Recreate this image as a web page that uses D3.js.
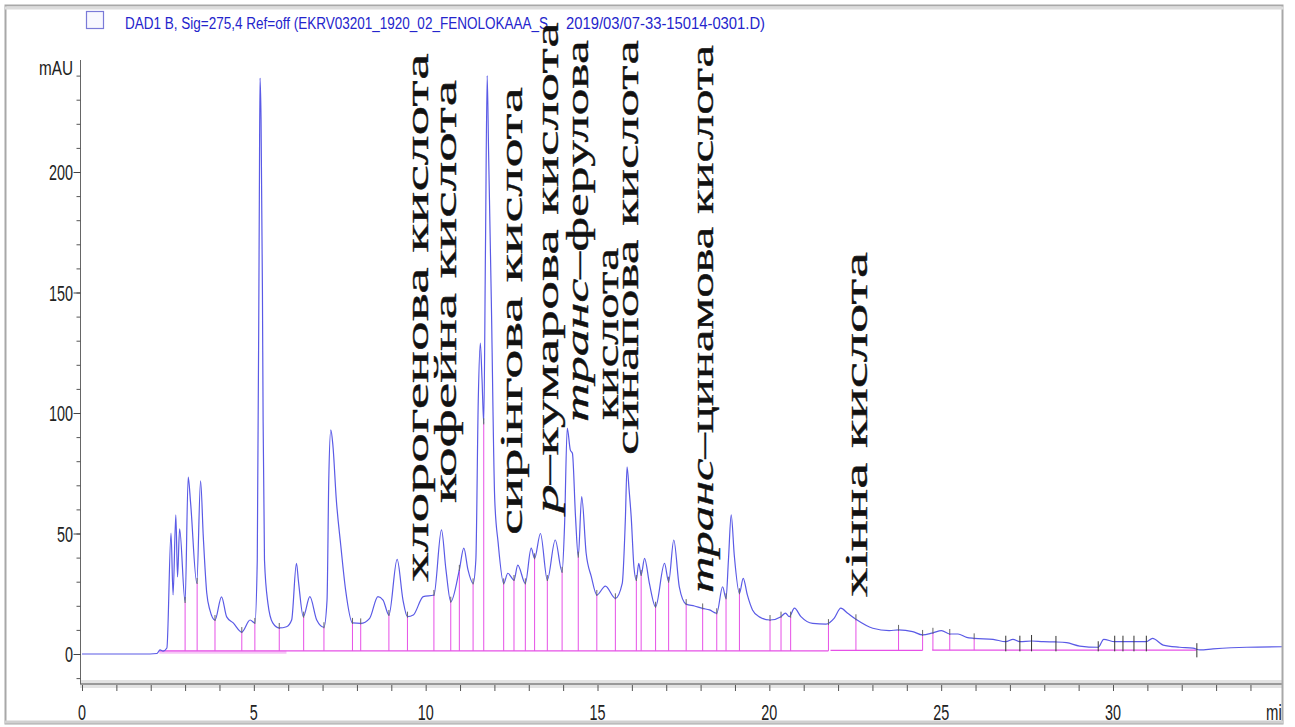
<!DOCTYPE html>
<html>
<head>
<meta charset="utf-8">
<script src="https://cdn.jsdelivr.net/npm/d3@7"></script>
<style>body{margin:0;background:#fff}</style>
</head>
<body>
<script>
// chromatogram trace: [retention time (min), absorbance (mAU)]
const trace = [
  [0,0],[1.98,0],[2.18,0.2],[2.27,1.7],[2.36,1.2],[2.47,2.5],[2.59,50.2],[2.65,24.5],[2.73,57.7],[2.78,32],
  [2.84,51.9],[3.00,21.6],[3.09,73.4],[3.16,62.7],[3.34,29.5],[3.45,71.8],[3.53,48.5],[3.63,25.3],[3.72,18.3],
  [3.87,14.1],[4.06,23.7],[4.21,15.4],[4.40,12.9],[4.65,9.1],[4.89,14.1],[5.03,12.9],[5.10,39],[5.16,188],
  [5.18,239],[5.21,222],[5.25,151],[5.27,97],[5.31,39],[5.41,21],[5.55,12.9],[5.74,10.8],[5.95,11.3],[6.10,14.1],
  [6.24,37.6],[6.30,30],[6.44,15.5],[6.63,23.8],[6.83,14.1],[7.04,11.1],[7.13,22.4],[7.18,72],[7.24,93],[7.30,86.7],
  [7.40,64],[7.53,45],[7.67,26.6],[7.87,12.9],[8.11,12.7],[8.37,14.8],[8.61,23.8],[8.76,22.4],[8.93,16.2],
  [9.17,39.3],[9.34,22.4],[9.47,15.5],[9.64,16.2],[9.93,23.8],[10.24,24.5],[10.46,51.5],[10.59,35],[10.73,21.7],
  [10.98,34.9],[11.11,43.9],[11.23,35],[11.38,29.3],[11.46,39],[11.53,105],[11.59,129],[11.64,114],[11.69,95.7],
  [11.74,168],[11.79,240],[11.83,209],[11.91,147],[12.01,64],[12.11,46],[12.27,29.3],[12.39,33.5],[12.57,30.7],
  [12.68,36.9],[12.90,29.3],[13.07,43.9],[13.17,39.7],[13.34,50],[13.54,30.7],[13.77,47.3],[13.97,34.1],
  [14.04,52.8],[14.12,93.7],[14.21,84.6],[14.27,83.3],[14.36,57],[14.44,40.4],[14.54,65.3],[14.67,41.8],
  [14.82,32.1],[14.98,24.5],[15.23,28.2],[15.52,23.1],[15.72,29.3],[15.81,55.6],[15.86,77.7],[15.92,68],
  [15.98,57],[16.06,36.2],[16.13,30.7],[16.20,37.6],[16.27,32.8],[16.37,39.7],[16.51,29.3],[16.69,19.6],
  [16.95,37.6],[17.07,30],[17.22,47.3],[17.38,27.9],[17.58,20.7],[17.82,19.9],[18.06,18.9],[18.26,18.3],
  [18.47,16.9],[18.64,27.9],[18.74,23.1],[18.81,39],[18.89,57.7],[18.98,41],[19.13,25.2],[19.24,31.4],
  [19.36,24.5],[19.51,18.3],[19.71,15.4],[20.02,14.1],[20.34,15.5],[20.47,17],[20.58,15.5],[20.73,19],
  [20.92,15.5],[21.26,12.7],[21.65,12.4],[21.89,14.9],[22.08,19],[22.28,16.9],[22.52,14.4],[23.01,10.7],
  [23.49,9.7],[23.76,10],[24.17,9.3],[24.46,7.9],[24.76,8.8],[25.01,9.7],[25.25,8.3],[25.49,8.3],[25.74,6.9],
  [25.96,6.5],[26.51,6.1],[26.88,5.1],[27.09,6.1],[27.29,5.1],[27.63,5.4],[27.97,5.1],[28.34,5.0],[28.65,4.7],
  [29.03,3.3],[29.57,2.8],[29.73,6.1],[30.05,5.1],[30.29,5.1],[30.61,5.1],[30.97,5.1],[31.15,6.5],[31.46,3.7],
  [31.94,2.8],[32.33,2.4],[32.53,1.7],[32.91,2.1],[33.89,2.8],[34.92,3.0]
];

// integration drop lines: [time, valley mAU]
const drops = [
  [3.00,21.6],[3.35,29.5],[3.87,14.1],[4.65,9.1],[5.03,12.9],[5.74,10.8],[6.45,15.5],[7.04,11.1],[7.87,12.9],
  [8.11,12.7],[8.93,16.2],[9.47,15.5],[10.24,24.5],[10.73,21.7],[10.98,34.9],[11.38,29.3],[11.69,95.7],
  [12.27,29.3],[12.57,30.7],[12.90,29.3],[13.17,39.7],[13.54,30.7],[13.97,34.1],[14.44,40.4],[14.98,24.5],
  [15.52,23.1],[16.13,30.7],[16.27,32.8],[16.69,19.6],[17.07,30],[17.58,20.7],[18.06,18.9],[18.47,16.9],
  [18.74,23.1],[19.13,25.2],[20.02,14.1],[20.34,15.5],[20.62,15.5],[21.72,12.4],[22.52,14.4],[23.76,10],
  [24.46,7.9],[24.76,8.8],[25.25,8.3],[25.96,6.5]
];

// late peak marks without drop lines: [time, mAU]
const lateMarks = [
  [26.88,5.1],[27.29,5.1],[27.63,5.4],[28.34,5.0],[29.57,2.8],[30.05,5.1],[30.29,5.1],[30.61,5.1],[30.97,5.1],[32.44,2.0]
];

// baseline segments: [start, end, mAU]
const baselines = [[2.25,21.72,1.3],[21.78,24.46,1.5],[24.74,32.42,1.6]];
const baselineShadow = [[2.25,5.95,0.7]];

// compound labels: time column and mAU span
const labels = [
  {pre:"", text:"хлорогенова кислота", t:10.04, from:29.9, to:249.4},
  {pre:"", text:"кофейна кислота", t:10.85, from:62.7, to:238.2},
  {pre:"", text:"сирінгова кислота", t:12.77, from:49.4, to:235.3},
  {pre:"p", text:"–кумарова кислота", t:13.82, from:58.5, to:262.2},
  {pre:"транс", text:"–ферулова", t:14.69, from:96.3, to:254.8},
  {pre:"", text:"кислота", t:15.57, from:97.1, to:168.5},
  {pre:"", text:"синапова кислота", t:16.15, from:82.6, to:254.8},
  {pre:"транс", text:"–цинамова кислота", t:18.33, from:25.3, to:252.7},
  {pre:"", text:"хінна кислота", t:22.81, from:23.7, to:166.8}
];

const yMajor = [0, 50, 100, 150, 200];
const yMinor = d3.range(-10, 250, 10);
const xMajor = [0, 5, 10, 15, 20, 25, 30];
const xMinor = d3.range(0, 36, 1);
const legendParts = ["DAD1 B, Sig=275,4 Ref=off (EKRV03201_1920_02_FENOLOKAAA_S", "2019/03/07-33-15014-0301.D)"];

const W = 1295, H = 727;
const svg = d3.select("body").append("svg").attr("width", W).attr("height", H)
  .style("font-family", "'Liberation Sans', Arial, sans-serif");

const x = d3.scaleLinear().domain([0, 30]).range([82, 1113]);
const y = d3.scaleLinear().domain([0, 200]).range([654, 172]);

svg.append("defs").append("clipPath").attr("id", "frame")
  .append("rect").attr("x", 6).attr("y", 6).attr("width", 1276).attr("height", 716);

const g = svg.append("g").attr("clip-path", "url(#frame)");

// x axis band + ticks
g.append("rect").attr("x", 80).attr("y", 680).attr("width", 1205).attr("height", 8).attr("fill", "#e3e3e3");
g.append("line").attr("x1", 80).attr("x2", 1285).attr("y1", 684).attr("y2", 684)
  .attr("stroke", "#808080").attr("stroke-width", 1.5);
const xa = g.append("g").attr("transform", "translate(0,685)")
  .call(d3.axisBottom(x).tickValues(xMinor).tickSize(6).tickFormat(""));
xa.select(".domain").remove();
xa.selectAll("line").attr("stroke", "#555");

g.selectAll(".xlab").data(xMajor).join("text")
  .attr("x", d => x(d)).attr("y", 720)
  .attr("text-anchor", "middle").attr("font-size", 22).attr("fill", "#222")
  .attr("textLength", d => String(d).length * 8).attr("lengthAdjust", "spacingAndGlyphs")
  .text(d => d);
g.append("text").attr("x", 1266).attr("y", 720).attr("font-size", 22).attr("fill", "#222")
  .attr("textLength", 24).attr("lengthAdjust", "spacingAndGlyphs").text("min");

// y axis
g.append("line").attr("x1", 80.5).attr("x2", 80.5).attr("y1", 60).attr("y2", 684)
  .attr("stroke", "#666").attr("stroke-width", 1);
const yMin = g.append("g").attr("transform", "translate(80.5,0)")
  .call(d3.axisLeft(y).tickValues(yMinor).tickSize(4).tickFormat(""));
yMin.select(".domain").remove();
yMin.selectAll("line").attr("stroke", "#555");
const yMaj = g.append("g").attr("transform", "translate(80.5,0)")
  .call(d3.axisLeft(y).tickValues(yMajor).tickSize(7).tickFormat(""));
yMaj.select(".domain").remove();
yMaj.selectAll("line").attr("stroke", "#444");

g.selectAll(".ylab").data(yMajor).join("text")
  .attr("x", 73).attr("y", d => y(d) + 8)
  .attr("text-anchor", "end").attr("font-size", 22).attr("fill", "#222")
  .attr("textLength", d => String(d).length * 8).attr("lengthAdjust", "spacingAndGlyphs")
  .text(d => d);
g.append("text").attr("x", 73).attr("y", 75).attr("text-anchor", "end")
  .attr("font-size", 21).attr("fill", "#222")
  .attr("textLength", 34).attr("lengthAdjust", "spacingAndGlyphs").text("mAU");

// baselines and drop lines
const pink = "#e650e6";
g.selectAll(".bshadow").data(baselineShadow).join("line")
  .attr("x1", d => x(d[0])).attr("x2", d => x(d[1]))
  .attr("y1", d => y(d[2])).attr("y2", d => y(d[2]))
  .attr("stroke", "#f6c4f6").attr("stroke-width", 3);
g.selectAll(".base").data(baselines).join("line")
  .attr("x1", d => x(d[0])).attr("x2", d => x(d[1]))
  .attr("y1", d => y(d[2])).attr("y2", d => y(d[2]))
  .attr("stroke", pink).attr("stroke-width", 1.2);

const baseAt = t => (baselines.find(b => t >= b[0] - 0.05 && t <= b[1] + 0.05) || baselines[0])[2];
g.selectAll(".drop").data(drops).join("line")
  .attr("x1", d => x(d[0])).attr("x2", d => x(d[0]))
  .attr("y1", d => y(baseAt(d[0]))).attr("y2", d => y(d[1]))
  .attr("stroke", pink).attr("stroke-width", 1);

// trace
const line = d3.line().x(d => x(d[0])).y(d => y(d[1])).curve(d3.curveMonotoneX);
g.append("path").datum(trace).attr("d", line)
  .attr("fill", "none").attr("stroke", "#5a5ae6").attr("stroke-width", 1.2);

// peak marks
g.selectAll(".mark").data(drops).join("line")
  .attr("x1", d => x(d[0])).attr("x2", d => x(d[0]))
  .attr("y1", d => y(d[1]) - 5).attr("y2", d => y(d[1]) + 1)
  .attr("stroke", "#666").attr("stroke-width", 1);
g.selectAll(".late").data(lateMarks).join("line")
  .attr("x1", d => x(d[0])).attr("x2", d => x(d[0]))
  .attr("y1", d => y(d[1]) - 6).attr("y2", d => y(Math.min(d[1], 1.6) - 0.5) + (d[0] > 32 ? 6 : 0))
  .attr("stroke", "#333").attr("stroke-width", 1);

// legend
g.append("rect").attr("x", 86.5).attr("y", 11.5).attr("width", 17).attr("height", 17)
  .attr("fill", "#f8f8ff").attr("stroke", "#7a7ad8").attr("stroke-width", 1.2);
g.append("text").attr("x", 125).attr("y", 29).attr("font-size", 16).attr("fill", "#2424cc")
  .attr("textLength", 423).attr("lengthAdjust", "spacingAndGlyphs").text(legendParts[0]);
g.append("text").attr("x", 566).attr("y", 29).attr("font-size", 16).attr("fill", "#2424cc")
  .attr("textLength", 199).attr("lengthAdjust", "spacingAndGlyphs").text(legendParts[1]);

// rotated compound labels
labels.forEach(d => {
  const t = g.append("text")
    .attr("font-family", "'Liberation Serif', 'Times New Roman', serif")
    .attr("font-size", 31).attr("fill", "#111")
    .attr("stroke", "#111").attr("stroke-width", 0.35);
  if (d.pre) t.append("tspan").attr("font-style", "italic").text(d.pre);
  t.append("tspan").text(d.text);
  const len = t.node().getComputedTextLength();
  const k = (y(d.from) - y(d.to)) / len;
  t.attr("transform", `translate(${x(d.t) + 1},${y(d.from)}) rotate(-90) scale(${k},1)`);
});

// frame
svg.append("rect").attr("x", 5.5).attr("y", 5.5).attr("width", 1277).attr("height", 718)
  .attr("fill", "none").attr("stroke", "#a8a8a8").attr("stroke-width", 2);
svg.append("line").attr("x1", 5).attr("x2", 1284).attr("y1", 8).attr("y2", 8)
  .attr("stroke", "#dcdcdc").attr("stroke-width", 3);
svg.append("line").attr("x1", 5).attr("x2", 1284).attr("y1", 722).attr("y2", 722)
  .attr("stroke", "#d0d0d0").attr("stroke-width", 3);
</script>
</body>
</html>
